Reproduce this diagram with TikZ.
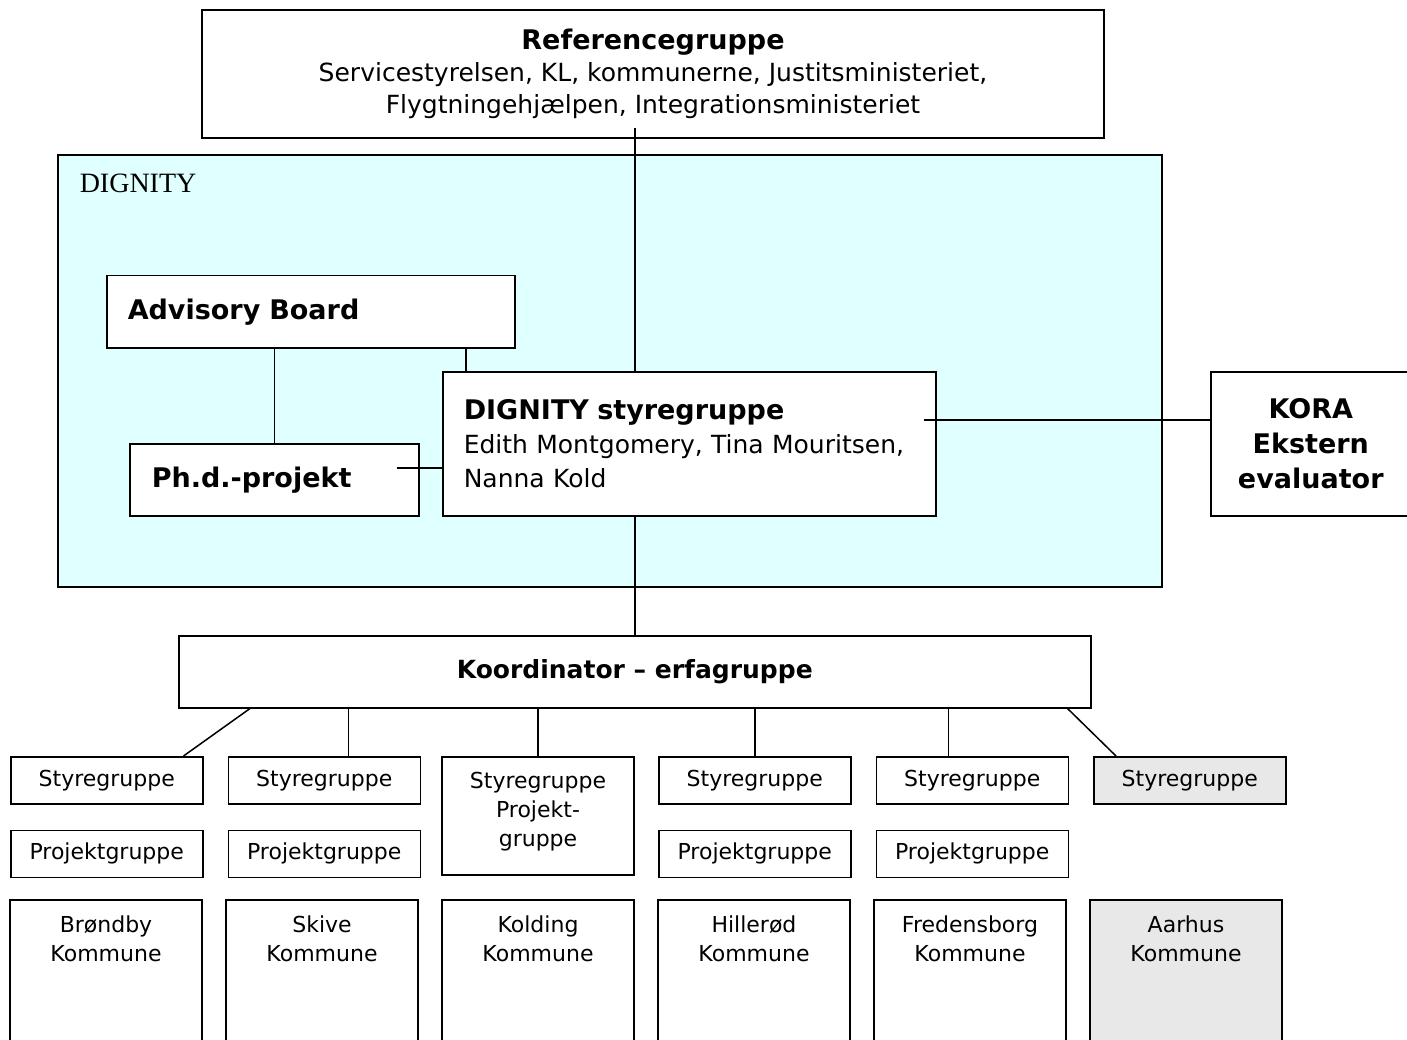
\documentclass[tikz,border=0pt]{standalone}
\usepackage{fontspec}
\setmainfont{DejaVu Sans}
\newfontfamily\timesfont{Liberation Serif}
\usetikzlibrary{positioning, calc}

\definecolor{dignitycyan}{HTML}{E0FFFF}
\definecolor{aarhusgray}{HTML}{E8E8E8}

\begin{document}
\begin{tikzpicture}[
						x=1pt, y=-1pt,
						line width=1.5pt,
						box/.style = {draw, rectangle, fill=white, inner sep=0pt, font=\fontsize{22}{29}\selectfont},
						sbox/.style = {box, minimum width=192pt, minimum height=47pt},
						gsbox/.style = {sbox, fill=aarhusgray},
						kbox/.style = {box, anchor=north, align=center, minimum width=192pt, inner ysep=16pt, text depth=130pt},
						gkbox/.style = {kbox, fill=aarhusgray}
					]
\useasboundingbox (0,0) rectangle (1407,1040);
\clip (0,0) rectangle (1407,1040);

% DIGNITY area
\node[draw, rectangle, fill=dignitycyan, minimum width=1104pt, minimum height=432pt, inner sep=0pt] (dignity) at (610,371) {};
\node[anchor=west, inner sep=0pt, font=\timesfont\fontsize{28}{30}\selectfont] (dignitylabel) at (79,183) {DIGNITY};

% top part
\node[box, align=center, minimum width=902pt, minimum height=128pt, font=\fontsize{25}{32}\selectfont] (ref) at (653,74)
	{\textbf{\fontsize{27}{32}\selectfont Referencegruppe}\\Servicestyrelsen, KL, kommunerne, Justitsministeriet,\\Flygtningehjælpen, Integrationsministeriet};
\node[box, anchor=north west, minimum width=408pt, minimum height=72pt, align=left, text width=408pt, font=\bfseries\fontsize{27}{32}\selectfont] (adv) at (106,275) {\hspace*{21pt}Advisory Board};
\node[box, anchor=north west, minimum width=289pt, minimum height=72pt, align=left, text width=289pt, font=\bfseries\fontsize{27}{32}\selectfont] (phd) at (129,443) {\hspace*{22pt}Ph.d.-projekt};
\node[box, anchor=north west, minimum width=493pt, minimum height=144pt, align=left, text width=493pt, font=\fontsize{25}{34}\selectfont] (dstyre) at (442,371)
	{\hspace*{21pt}\textbf{\fontsize{27}{34}\selectfont DIGNITY styregruppe}\\\hspace*{21pt}Edith Montgomery, Tina Mouritsen,\\\hspace*{21pt}Nanna Kold};
\node[box, anchor=north west, minimum width=200pt, minimum height=144pt, align=center, text width=200pt, font=\bfseries\fontsize{27}{35}\selectfont] (kora) at (1210,371)
	{KORA\\Ekstern\\evaluator};

% coordinator
\node[box, anchor=north west, minimum width=912pt, minimum height=72pt, font=\bfseries\fontsize{25}{30}\selectfont] (koord) at (178,635) {Koordinator – erfagruppe};

% municipalities
\node[sbox, anchor=north west] (s1) at (10,756) {Styregruppe};
\node[sbox] (s2) [right=24pt of s1] {Styregruppe};
\node[box, anchor=north, minimum width=192pt, align=center, inner ysep=15pt, text depth=14pt] (s3) at (538,756) {Styregruppe\\Projekt-\\gruppe};
\node[sbox, anchor=north west] (s4) at (658,756) {Styregruppe};
\node[sbox] (s5) [right=24pt of s4] {Styregruppe};
\node[gsbox] (s6) [right=24pt of s5] {Styregruppe};

\node[sbox] (p1) [below=25pt of s1] {Projektgruppe};
\node[sbox] (p2) [below=25pt of s2] {Projektgruppe};
\node[sbox] (p4) [below=25pt of s4] {Projektgruppe};
\node[sbox] (p5) [below=25pt of s5] {Projektgruppe};

\node[kbox] (k1) at (106,899) {Brøndby\\Kommune};
\node[kbox] (k2) at (322,899) {Skive\\Kommune};
\node[kbox] (k3) at (538,899) {Kolding\\Kommune};
\node[kbox] (k4) at (754,899) {Hillerød\\Kommune};
\node[kbox] (k5) at (970,899) {Fredensborg\\Kommune};
\node[gkbox] (k6) at (1186,899) {Aarhus\\Kommune};

% connectors
\draw ([yshift=11pt]ref.south -| koord) -- (dstyre.north -| koord);
\draw (dstyre.south -| koord) -- (koord.north);
\draw (adv.south -| phd) -- (phd.north);
\draw ([xshift=24pt]dstyre.north west) -- ([xshift=24pt]dstyre.north west |- adv.south);
\draw ($(phd.east)+(-23,-12)$) -- ($(dstyre.west)+(0,24)$);
\draw ($(dstyre.east)+(-13,-24)$) -- ($(kora.west)+(0,-24)$);

\draw ($(koord.south west)+(72,0)$) -- ($(s1.north east)+(-20,0)$);
\draw ($(s2.north)+(24,0)$) coordinate (c2) -- (c2 |- koord.south);
\draw (s3.north) -- (s3.north |- koord.south);
\draw (s4.north) -- (s4.north |- koord.south);
\draw ($(s5.north)+(-24,0)$) coordinate (c5) -- (c5 |- koord.south);
\draw ($(koord.south east)+(-24,0)$) -- ($(s6.north west)+(23,0)$);
\end{tikzpicture}
\end{document}
